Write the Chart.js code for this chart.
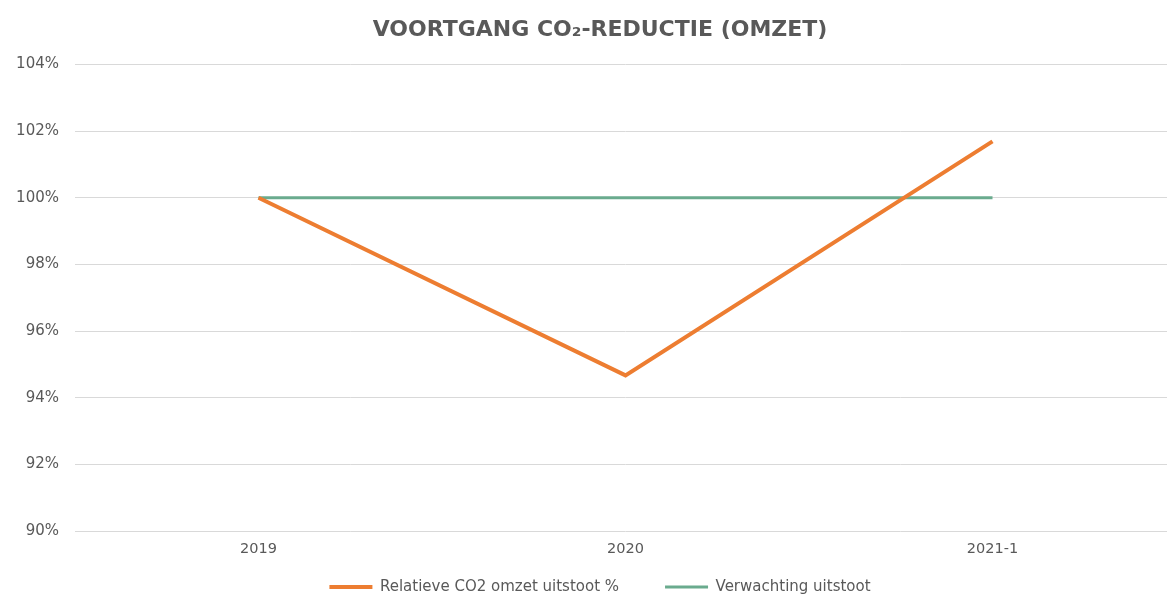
<!DOCTYPE html>
<html>
<head>
<meta charset="utf-8">
<script src="https://cdn.jsdelivr.net/npm/chart.js@4/dist/chart.umd.min.js"></script>
<style>
	html, body { margin: 0; padding: 0; background: #fff; overflow: hidden; }
	#wrap { width: 1200px; height: 598px; position: relative; }
</style>
</head>
<body>
<div id="wrap"><canvas id="chart"></canvas></div>
<script>
const categories = ["2019", "2020", "2021-1"];
const relatieveUitstoot = [1.000, 0.9467, 1.0169];
const verwachtingUitstoot = [1.000, 1.000, 1.000];
const yMin = 0.90, yMax = 1.04, yStep = 0.02;

const textColor = "#595959";
const gridColor = "#d9d9d9";

// plot runs past the right edge, so title + legend get nudged back to the page centre;
// legend row uses labels.padding above it too, so pull it up under the x labels
const nudgeBoxes = {
	id: "nudgeBoxes",
	afterLayout(chart) {
		const dx = 12;
		const t = chart.titleBlock;
		t.left += dx;
		t.right += dx;
		const lg = chart.legend;
		lg.left += dx;
		lg.right += dx;
		const rowY = lg.top + lg.options.labels.padding + lg.options.labels.font.size / 2;
		const dy = rowY - 587;
		lg.top -= dy;
		lg.bottom -= dy;
	}
};

new Chart(document.getElementById("chart"), {
	type: "line",
	data: {
		labels: categories,
		datasets: [{
			label: "Relatieve CO2 omzet uitstoot %",
			data: relatieveUitstoot,
			borderColor: "#ed7d31",
			backgroundColor: "#ed7d31",
			borderWidth: 4,
			pointRadius: 0,
			tension: 0
		}, {
			label: "Verwachting uitstoot",
			data: verwachtingUitstoot,
			borderColor: "#6aab8e",
			backgroundColor: "#6aab8e",
			borderWidth: 3,
			pointRadius: 0,
			tension: 0
		}]
	},
	plugins: [nudgeBoxes],
	options: {
		responsive: true,
		maintainAspectRatio: false,
		animation: false,
		layout: { padding: { left: 0, right: 24, top: 0, bottom: -29 } },
		plugins: {
			title: {
				display: true,
				text: "VOORTGANG CO\u2082-REDUCTIE (OMZET)",
				color: textColor,
				font: { family: "DejaVu Sans", size: 22, weight: "bold" },
				padding: { top: 17, bottom: 21 }
			},
			legend: {
				position: "bottom",
				labels: {
					usePointStyle: true,
					pointStyle: "line",
					pointStyleWidth: 43,
					color: textColor,
					font: { family: "DejaVu Sans", size: 15 },
					padding: 46
				}
			},
			tooltip: { enabled: false }
		},
		scales: {
			x: {
				offset: true,
				afterFit: (scale) => { scale.height = 25; },
				grid: { display: false, drawTicks: false },
				border: { display: false },
				ticks: { color: textColor, font: { family: "DejaVu Sans", size: 14.5 }, padding: 10 }
			},
			y: {
				min: yMin,
				max: yMax,
				afterFit: (scale) => { scale.width = 75; },
				grid: { color: gridColor, drawTicks: false },
				border: { display: false },
				ticks: {
					stepSize: yStep,
					color: textColor,
					font: { family: "DejaVu Sans", size: 15 },
					padding: 16,
					callback: (v) => Math.round(v * 100) + "%"
				}
			}
		}
	}
});
</script>
</body>
</html>
